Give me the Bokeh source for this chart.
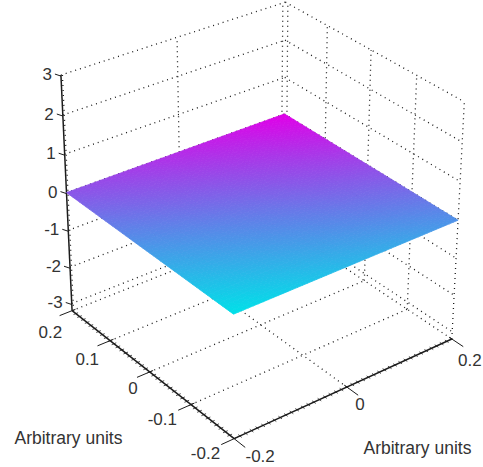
from bokeh.plotting import figure
from bokeh.models import Range1d
from bokeh.core.properties import value
from bokeh.embed import file_html
from bokeh.resources import INLINE
import numpy as np

# ---- chart data ----
x_ticks = [-0.2, 0.0, 0.2]
x_labels = ["-0.2", "0", "0.2"]
y_ticks = [0.2, 0.1, 0.0, -0.1, -0.2]
y_labels = ["0.2", "0.1", "0", "-0.1", "-0.2"]
z_ticks = [3, 2, 1, 0, -1, -2, -3]
z_labels = ["3", "2", "1", "0", "-1", "-2", "-3"]
z_floor = -3.2
axis_title = "Arbitrary units"

# colour level of the flat surface (z = 0), rows y = -0.2 .. 0.2, columns x = -0.2 .. 0.2
surface_level = [
    [0.00, 0.09, 0.18, 0.26, 0.35],
    [0.155, 0.25, 0.34, 0.43, 0.51],
    [0.31, 0.40, 0.49, 0.59, 0.67],
    [0.465, 0.56, 0.65, 0.74, 0.84],
    [0.62, 0.71, 0.81, 0.90, 1.00],
]
surface_x = [-0.2, -0.1, 0.0, 0.1, 0.2]
surface_y = [-0.2, -0.1, 0.0, 0.1, 0.2]

# ---- camera calibration: data point -> page pixel, solved as a projective camera ----
calib_3d = np.array([
    (-.2, .2, 3), (-.2, .2, -3), (.2, -.2, 3), (.2, -.2, -3), (.2, .2, 3), (.2, .2, 0),
    (-.2, -.2, -3.2), (-.2, .2, 0), (.2, -.2, 0), (-.2, -.2, 0), (.2, -.2, -3.2), (-.2, .2, -3.2),
    (.2, .2, 2), (.2, .2, 1),
])
calib_2d = np.array([
    (62, 72), (70, 305), (460, 97), (450, 330), (284, 3), (284, 113),
    (233, 433), (66, 192), (458, 220), (233, 314), (451, 339), (72, 312),
    (284, 43), (284, 80),
], dtype=float)
calib_weight = [1, 1, 1, 1, 1, 4, 1, 4, 4, 4, 1, 1, 1, 1]


def _solve_camera():
    S = np.array([5.0, 5.0, 1 / 3.0])
    rows = []
    for P, q, w in zip(calib_3d, calib_2d, calib_weight):
        X = np.r_[P * S, 1.0]
        u, v = q / 100.0
        rows.append(w * np.r_[X, np.zeros(4), -u * X])
        rows.append(w * np.r_[np.zeros(4), X, -v * X])
    m = np.linalg.svd(np.array(rows))[2][-1].reshape(3, 4)
    return m, S


CAM, SCALE = _solve_camera()


def proj(x, y, z):
    x, y, z = np.broadcast_arrays(np.asarray(x, float), np.asarray(y, float), np.asarray(z, float))
    X = np.stack([x * SCALE[0], y * SCALE[1], z * SCALE[2], np.ones_like(x, dtype=float)])
    h = np.tensordot(CAM, X, axes=(1, 0))
    return h[0] / h[2] * 100.0, h[1] / h[2] * 100.0


def seg(a, b):
    xa, ya = proj(*a)
    xb, yb = proj(*b)
    return [float(xa), float(xb)], [float(ya), float(yb)]


p = figure(width=483, height=467, x_range=Range1d(0, 483), y_range=Range1d(467, 0),
           output_backend="svg", toolbar_location=None, min_border=0,
           background_fill_color="white", border_fill_color="white", outline_line_color=None)
p.axis.visible = False
p.grid.visible = False

xmin, xmax = x_ticks[0], x_ticks[-1]
ymin, ymax = y_ticks[-1], y_ticks[0]
ztop = z_ticks[0]

# ---- dotted grid: floor and the two back walls ----
gx, gy = [], []


def add(a, b, dx=0.0):
    s = seg(a, b)
    gx.append([v + dx for v in s[0]])
    gy.append(s[1])


for z in z_ticks:
    add((xmin, ymax, z), (xmax, ymax, z))
    add((xmax, ymax, z), (xmax, ymin, z))
add((xmin, ymax, z_floor), (xmax, ymax, z_floor))
add((xmax, ymax, z_floor), (xmax, ymin, z_floor))
for xt in x_ticks:
    add((xt, ymax, z_floor), (xt, ymax, ztop), dx=(-2.5 if xt == xmax else 1.5 if xt == xmin else 0))
for yt in y_ticks:
    add((xmax, yt, z_floor), (xmax, yt, ztop), dx=2.5 if yt == ymax else 0)
for yt in y_ticks[1:-1]:
    add((xmin, yt, z_floor), (xmax, yt, z_floor))
for xt in x_ticks[1:-1]:
    add((xt, ymin, z_floor), (xt, ymax, z_floor))
p.multi_line(gx, gy, line_color="#1a1a1a", line_width=1.3, line_dash="1 4")

# ---- axes ----
ax, ay = [], []
for s in (seg((xmin, ymax, ztop), (xmin, ymax, z_floor)),
          seg((xmin, ymax, z_floor), (xmin, ymin, z_floor)),
          seg((xmin, ymin, z_floor), (xmax, ymin, z_floor))):
    ax.append(s[0])
    ay.append(s[1])
p.multi_line(ax, ay, line_color="#1c1c1c", line_width=1.5)

tx, ty = [], []
for z in z_ticks:
    s = seg((xmin, ymax, z), (xmin, ymax + 0.0, z))
    tx.append([s[0][0] - 6, s[0][0]])
    ty.append([s[1][0] - 1, s[1][0] + 1])
for yt in y_ticks:
    s = seg((xmin - 0.022, yt, z_floor), (xmin + 0.006, yt, z_floor))
    tx.append(s[0])
    ty.append(s[1])
for xt in x_ticks:
    s = seg((xt, ymin - 0.025, z_floor), (xt, ymin + 0.006, z_floor))
    tx.append(s[0])
    ty.append(s[1])
p.multi_line(tx, ty, line_color="#1c1c1c", line_width=1)

mx, my = [], []
for k in range(1, 40):
    v = xmin + k * 0.01
    s = seg((v, ymin - 0.004, z_floor), (v, ymin + 0.004, z_floor))
    mx.append(s[0]); my.append(s[1])
    s = seg((xmin - 0.004, v, z_floor), (xmin + 0.004, v, z_floor))
    mx.append(s[0]); my.append(s[1])
p.multi_line(mx, my, line_color="#1c1c1c", line_width=0.8)

# ---- surface: the 5x5 table, smooth-shaded across a fine mesh ----
level = np.array(surface_level)
sx = np.array(surface_x)
sy = np.array(surface_y)
N = 48
u = np.linspace(xmin, xmax, N + 1)
v = np.linspace(ymin, ymax, N + 1)
xs, ys, cols = [], [], []
for i in range(N):
    for j in range(N):
        qx, qy = proj([u[i], u[i + 1], u[i + 1], u[i]], [v[j], v[j], v[j + 1], v[j + 1]], 0.0)
        uc, vc = (u[i] + u[i + 1]) / 2, (v[j] + v[j + 1]) / 2
        a = np.interp(uc, sx, np.arange(5))
        b = np.interp(vc, sy, np.arange(5))
        ia, ib = min(int(a), 3), min(int(b), 3)
        fa, fb = a - ia, b - ib
        t = (level[ib, ia] * (1 - fa) * (1 - fb) + level[ib, ia + 1] * fa * (1 - fb)
             + level[ib + 1, ia] * (1 - fa) * fb + level[ib + 1, ia + 1] * fa * fb)
        xs.append(qx.tolist())
        ys.append(qy.tolist())
        cols.append("#%02x%02x%02x" % (int(225 * t), int(225 * (1 - t)), 232))
p.patches(xs, ys, fill_color=cols, line_color=cols, line_width=0.8)

# ---- labels ----
FONT = value("Liberation Sans")
TXT = "#333333"
kw = dict(text_font=FONT, text_font_size="17px", text_color=TXT, text_baseline="middle")

zx, zy = proj(xmin, ymax, np.array(z_ticks, float))
p.text((zx - 9).tolist(), (zy - 1).tolist(), text=z_labels, text_align="right", **kw)

yx, yy = proj(xmin, np.array(y_ticks), z_floor)
y_dx = [-10, -11, -12, -14, -14]
y_dy = [21, 18, 16, 14, 14]
p.text((yx + np.array(y_dx)).tolist(), (yy + np.array(y_dy)).tolist(), text=y_labels, text_align="right", **kw)

xx, xy = proj(np.array(x_ticks), ymin, z_floor)
x_dx = [26, 13, 18]
x_dy = [17, 17, 21]
p.text((xx + np.array(x_dx)).tolist(), (xy + np.array(x_dy)).tolist(), text=x_labels, text_align="center", **kw)

p.text([14, 363], [437, 447], text=[axis_title, axis_title], text_align="left",
       text_font=FONT, text_font_size="17.5px", text_color=TXT, text_baseline="middle")

open("out.html", "w").write(file_html(p, INLINE))
